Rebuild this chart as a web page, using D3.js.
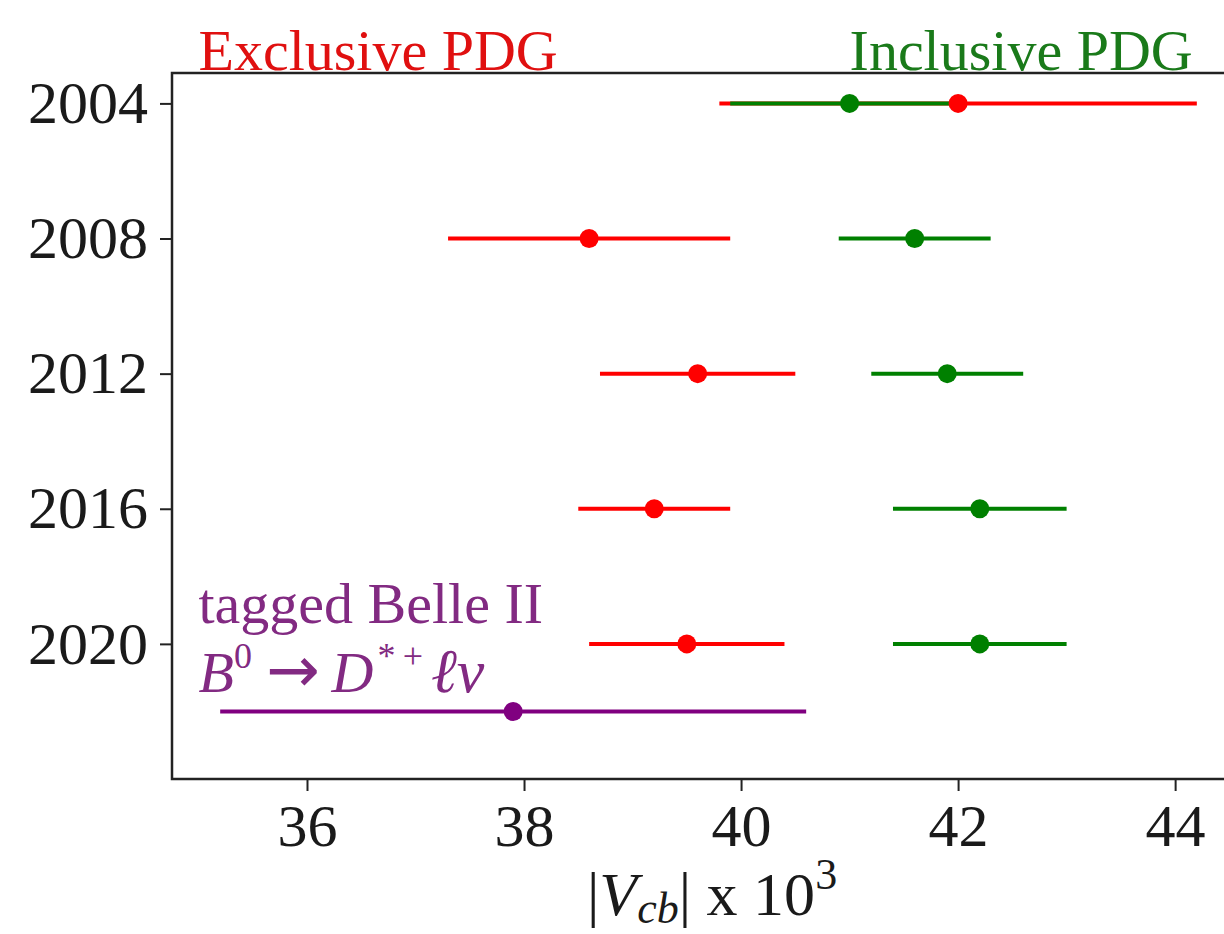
<!DOCTYPE html>
<html>
<head>
<meta charset="utf-8">
<script src="https://cdn.jsdelivr.net/npm/d3@7"></script>
<style>
  html, body { margin: 0; padding: 0; background: #fff; }
  svg { display: block; overflow: hidden; }
  text { font-family: "Liberation Serif", "Times New Roman", serif; }
</style>
</head>
<body>
<svg id="chart" width="1224" height="934"></svg>
<script>
// ---- data ----
const years = [2004, 2008, 2012, 2016, 2020];
const exclusiveVal = [42.0, 38.6, 39.6, 39.2, 39.5];
const exclusiveLo  = [39.8, 37.3, 38.7, 38.5, 38.6];
const exclusiveHi  = [44.2, 39.9, 40.5, 39.9, 40.4];
const inclusiveVal = [41.0, 41.6, 41.9, 42.2, 42.2];
const inclusiveLo  = [39.9, 40.9, 41.2, 41.4, 41.4];
const inclusiveHi  = [42.0, 42.3, 42.6, 43.0, 43.0];
const belleYear = [2022];
const belleVal  = [37.9];
const belleLo   = [35.2];
const belleHi   = [40.6];
const xTicks = [36, 38, 40, 42, 44];
const yTicks = [2004, 2008, 2012, 2016, 2020];

// ---- layout ----
const mLeft = 172, mRight = 1250, mTop = 73, mBottom = 779;
const svg = d3.select("#chart");
const x = d3.scaleLinear().domain([34.756, 44.69]).range([mLeft, mRight]);
const y = d3.scaleLinear().domain([2003.1, 2024]).range([mTop, mBottom]);

const FS = 58;
const INK = "#1a1a1a";

// spines
svg.append("rect").attr("x", mLeft).attr("y", mTop).attr("width", mRight - mLeft).attr("height", mBottom - mTop)
  .attr("fill", "none").attr("stroke", "#222").attr("stroke-width", 2.5);

// x axis
const xAxis = d3.axisBottom(x).tickValues(xTicks).tickSize(12).tickPadding(12).tickFormat(d3.format("d"));
const gx = svg.append("g").attr("transform", `translate(0,${mBottom})`).call(xAxis);
gx.select(".domain").remove();
gx.selectAll(".tick line").attr("stroke", "#222").attr("stroke-width", 2);
gx.selectAll(".tick text").attr("font-size", FS + 2).attr("fill", INK)
  .attr("font-family", "Liberation Serif, serif");

// y axis
const yAxis = d3.axisLeft(y).tickValues(yTicks).tickSize(12).tickPadding(12).tickFormat(d3.format("d"));
const gy = svg.append("g").attr("transform", `translate(${mLeft},0)`).call(yAxis);
gy.select(".domain").remove();
gy.selectAll(".tick line").attr("stroke", "#222").attr("stroke-width", 2);
gy.selectAll(".tick text").attr("font-size", FS + 2).attr("fill", INK)
  .attr("font-family", "Liberation Serif, serif");

// ---- series ----
const exclusive = years.map((yr, i) => ({ yr, v: exclusiveVal[i], lo: exclusiveLo[i], hi: exclusiveHi[i] }));
const inclusive = years.map((yr, i) => ({ yr, v: inclusiveVal[i], lo: inclusiveLo[i], hi: inclusiveHi[i] }));
const belle = belleYear.map((yr, i) => ({ yr, v: belleVal[i], lo: belleLo[i], hi: belleHi[i] }));

const series = [
  { data: exclusive, color: "#ff0000" },
  { data: inclusive, color: "#008000" },
  { data: belle, color: "#800080" }
];

const plot = svg.append("g");
series.forEach(s => {
  plot.selectAll(null).data(s.data).enter().append("line")
    .attr("x1", d => x(d.lo)).attr("x2", d => x(d.hi))
    .attr("y1", d => y(d.yr)).attr("y2", d => y(d.yr))
    .attr("stroke", s.color).attr("stroke-width", 4);
});
series.forEach(s => {
  plot.selectAll(null).data(s.data).enter().append("circle")
    .attr("cx", d => x(d.v)).attr("cy", d => y(d.yr)).attr("r", 9.5)
    .attr("fill", s.color);
});

// ---- annotations ----
svg.append("text").attr("x", x(35.0)).attr("y", y(2003.02))
  .attr("font-size", FS).attr("fill", "#e01010").text("Exclusive PDG");
svg.append("text").attr("x", x(41.0)).attr("y", y(2003.02))
  .attr("font-size", FS).attr("fill", "#1a7a1a").text("Inclusive PDG");

svg.append("text").attr("x", x(35.0)).attr("y", y(2019.38))
  .attr("font-size", FS).attr("fill", "#822a82").text("tagged Belle II");

const t2 = svg.append("text").attr("x", x(35.0)).attr("y", y(2021.43))
  .attr("font-size", FS).attr("fill", "#822a82");
t2.append("tspan").attr("font-style", "italic").text("B");
t2.append("tspan").attr("font-size", 36).attr("dy", -24).text("0");
t2.append("tspan").attr("dy", 24).attr("dx", 14).attr("font-family", "DejaVu Sans, sans-serif")
  .attr("font-size", 64).text("\u2192");
t2.append("tspan").attr("dx", 12).attr("font-style", "italic").text("D");
t2.append("tspan").attr("font-size", 36).attr("dy", -24).attr("dx", 4).text("*\u2009+");
t2.append("tspan").attr("dy", 24).attr("dx", 8).attr("font-style", "italic").attr("font-size", 62).text("\u2113\u03BD");

// x label
const xl = svg.append("text").attr("x", 712).attr("y", 915)
  .attr("text-anchor", "middle").attr("font-size", 62).attr("fill", INK);
xl.append("tspan").text("|");
xl.append("tspan").attr("font-style", "italic").text("V");
xl.append("tspan").attr("font-style", "italic").attr("font-size", 44).attr("dy", 8).text("cb");
xl.append("tspan").attr("dy", -8).text("| x 10");
xl.append("tspan").attr("font-size", 44).attr("dy", -26).text("3");
</script>
</body>
</html>
